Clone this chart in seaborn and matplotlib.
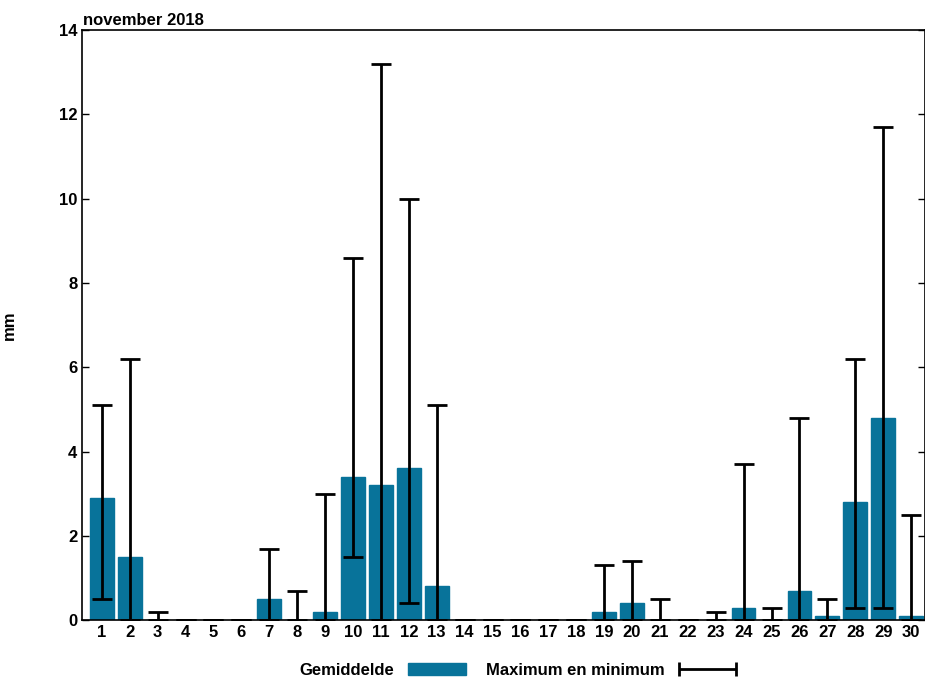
import numpy as np
import pandas as pd
import matplotlib
matplotlib.use("Agg")
import matplotlib.pyplot as plt
import seaborn as sns
from matplotlib.patches import Patch
from matplotlib.legend_handler import HandlerErrorbar

days = list(range(1, 31))
gemiddelde = [2.9, 1.5, 0, 0, 0, 0, 0.5, 0, 0.2, 3.4, 3.2, 3.6, 0.8, 0, 0,
              0, 0, 0, 0.2, 0.4, 0, 0, 0, 0.3, 0, 0.7, 0.1, 2.8, 4.8, 0.1]
minimum = [0.5, 0, 0, 0, 0, 0, 0, 0, 0, 1.5, 0, 0.4, 0, 0, 0,
           0, 0, 0, 0, 0, 0, 0, 0, 0, 0, 0, 0, 0.3, 0.3, 0]
maximum = [5.1, 6.2, 0.2, 0, 0, 0, 1.7, 0.7, 3.0, 8.6, 13.2, 10.0, 5.1, 0, 0,
           0, 0, 0, 1.3, 1.4, 0.5, 0, 0.2, 3.7, 0.3, 4.8, 0.5, 6.2, 11.7, 2.5]

sns.set_style("white")
plt.rcParams['font.family'] = ['Liberation Sans', 'DejaVu Sans']
plt.rcParams['font.weight'] = 'bold'
plt.rcParams['text.color'] = 'black'
plt.rcParams['xtick.color'] = 'black'
plt.rcParams['ytick.color'] = 'black'
plt.rcParams['axes.labelcolor'] = 'black'

color = "#08739a"
df = pd.DataFrame({"dag": days, "mm": gemiddelde})

fig = plt.figure(figsize=(9.25, 6.86), dpi=100)
ax = fig.add_axes([0.089, 0.096, 0.911, 0.86])
sns.barplot(data=df, x="dag", y="mm", color=color, saturation=1, width=0.85,
            edgecolor=color, linewidth=1, ax=ax)

x = np.arange(len(days))
mean = np.array(gemiddelde)
ax.errorbar(x, mean, yerr=[mean - np.array(minimum), np.array(maximum) - mean],
            fmt='none', ecolor='black', elinewidth=2, capsize=7, capthick=2)

# legend handle: horizontal bar with caps
eb = ax.errorbar([np.nan], [np.nan], xerr=[1], fmt='none', ecolor='black',
                 elinewidth=2, capsize=5, capthick=2)

ax.set_ylim(0, 14)
ax.set_xlim(-0.7, 29.5)
ax.set_yticks(range(0, 15, 2))
ax.set_xlabel("")
ax.set_ylabel("mm", fontsize=12, fontweight='bold', labelpad=30)
ax.tick_params(axis='both', labelsize=12, direction='in', length=5, width=1,
               left=True, bottom=False, right=True)
for s in ax.spines.values():
    s.set_linewidth(1.2)
    s.set_color('black')
fig.text(0.09, 0.963, "november 2018", fontsize=12, fontweight='bold', ha='left')

handles = [Patch(facecolor=color, edgecolor=color), eb]
fig.legend(handles, ["Gemiddelde", "Maximum en minimum"], loc='lower center',
           bbox_to_anchor=(0.56, -0.01), ncol=2, frameon=False, markerfirst=False,
           fontsize=12, handlelength=3.5, columnspacing=1.2,
           handler_map={type(eb): HandlerErrorbar(xerr_size=1.7)})
fig.savefig("out.png", dpi=100)
